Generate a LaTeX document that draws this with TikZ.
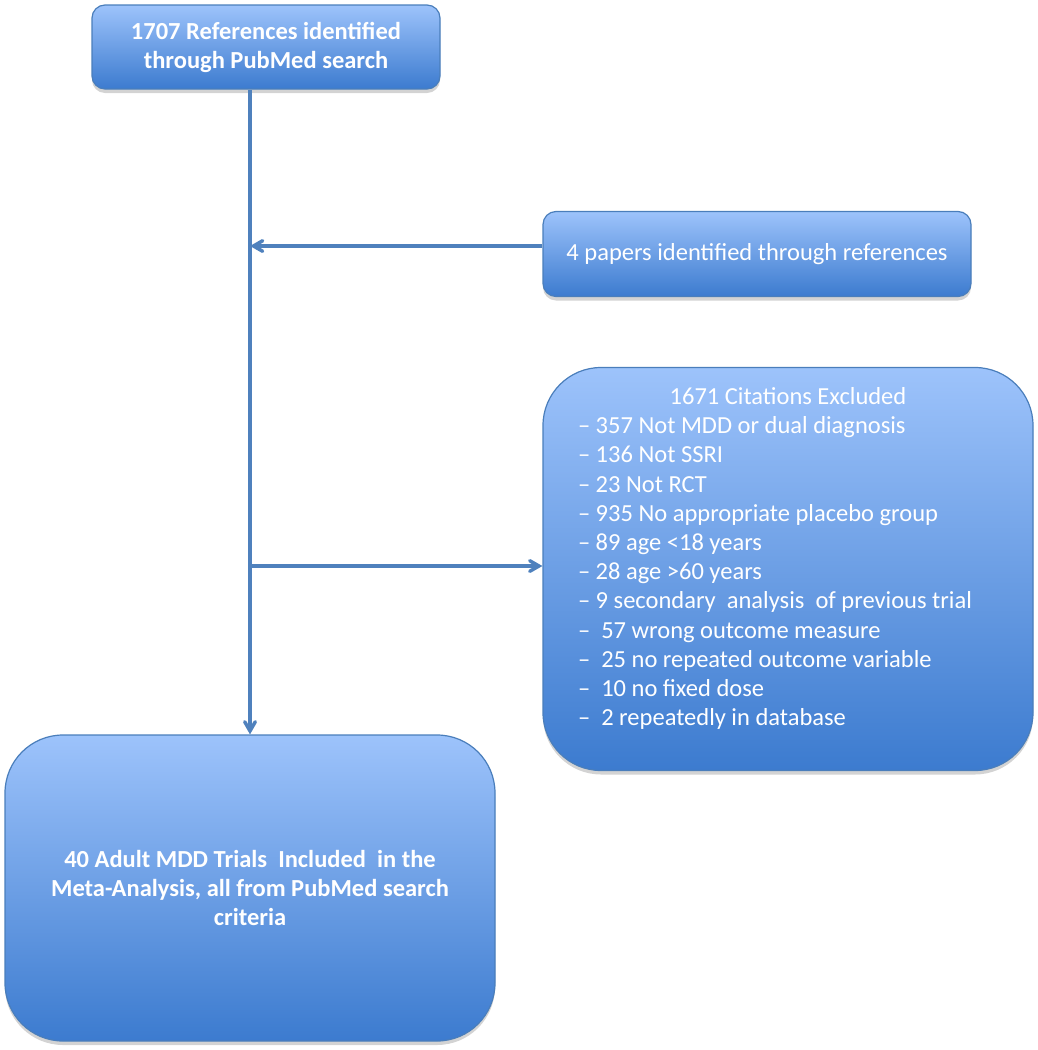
\documentclass[tikz,border=0pt]{standalone}
\usepackage{fontspec}
\setmainfont{Carlito}
\usetikzlibrary{arrows}
\usetikzlibrary{shadows}

\definecolor{boxTop}{HTML}{9DC3FB}
\definecolor{boxBottom}{HTML}{3C7BCF}
\definecolor{boxLine}{HTML}{4A7EBB}
\definecolor{flowLine}{HTML}{4F81BD}

\begin{document}
\begin{tikzpicture}[x = 1pt, y = -1pt]
	\tikzstyle{BoxStyle} = [draw = boxLine, line width = 1.2pt, top color = boxTop, bottom color = boxBottom, text = white, align = center, font = \fontsize{24.5}{29}\selectfont, drop shadow = {opacity = 0.35, shadow xshift = 0pt, shadow yshift = -4pt}]
	\tikzstyle{smallBox} = [BoxStyle, rounded corners = 13pt]
	\tikzstyle{bigBox} = [BoxStyle, rounded corners = 58pt]
	\tikzstyle{FlowStyle} = [draw = flowLine, line width = 3.5pt, -angle 60]
	\useasboundingbox (0, 0) rectangle (1038, 1050);
	\node[smallBox, font = \fontsize{24.5}{29}\selectfont\bfseries, minimum width = 348pt, minimum height = 84pt] (search) at (266, 47) {1707 References identified\\ through PubMed search};
	\node[smallBox, minimum width = 428pt, minimum height = 85pt] (refs) at (757, 254) {4 papers identified through references};
	\node[bigBox, minimum width = 490pt, minimum height = 403pt] (excl) at (788, 569) {};
	\node[text = white, text width = 440pt, align = flush left, anchor = north, font = \fontsize{24.5}{29.2}\selectfont] (exclText) at (798, 384) {\makebox[420pt]{1671 Citations Excluded}\\
		-- 357 Not MDD or dual diagnosis\\
		-- 136 Not SSRI\\
		-- 23 Not RCT\\
		-- 935 No appropriate placebo group\\
		-- 89 age <18 years\\
		-- 28 age >60 years\\
		-- 9 secondary\ \ analysis\ \ of previous trial\\
		--\ \ 57 wrong outcome measure\\
		--\ \ 25 no repeated outcome variable\\
		--\ \ 10 no fixed dose\\
		--\ \ 2 repeatedly in database};
	\node[bigBox, font = \fontsize{24.5}{29}\selectfont\bfseries, minimum width = 490pt, minimum height = 306pt] (final) at (250, 888) {40 Adult MDD Trials\ \ Included\ \ in the\\ Meta-Analysis, all from PubMed search\\ criteria};
	\draw[FlowStyle] (search.south -| final.north) -- (final.north);
	\draw[FlowStyle] ([yshift = 8pt]refs.west) -- ([yshift = 8pt]refs.west -| final.north);
	\draw[FlowStyle] ([yshift = 3pt]excl.west -| final.north) -- ([yshift = 3pt]excl.west);
\end{tikzpicture}
\end{document}
